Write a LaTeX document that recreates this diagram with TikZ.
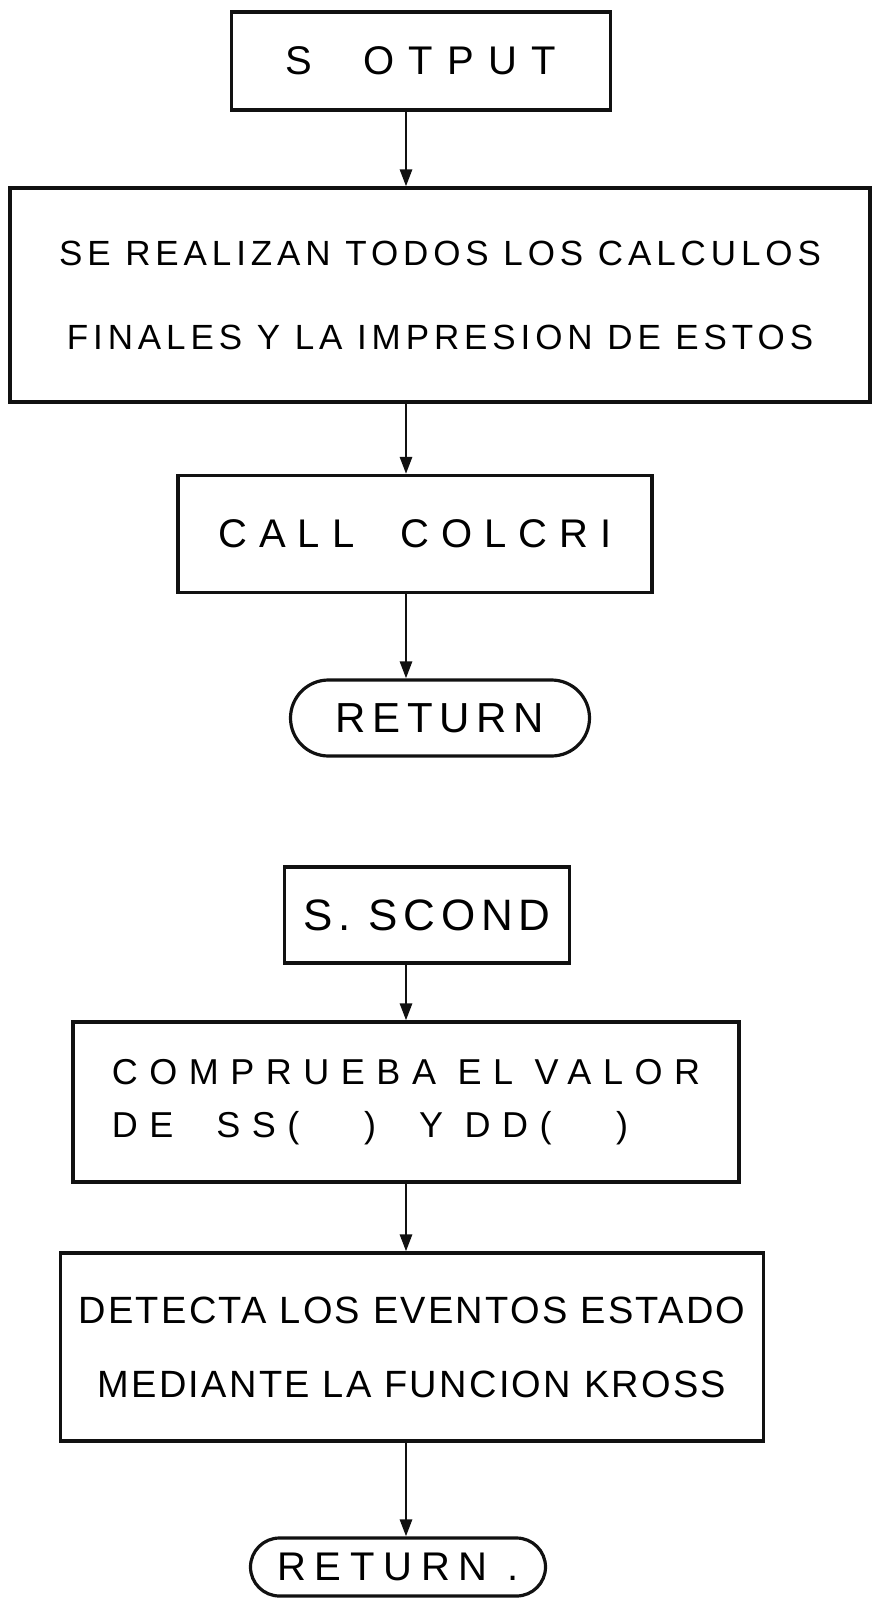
\documentclass[tikz,border=0pt]{standalone}
\usepackage{fontspec}
\setmainfont{Liberation Sans}
\usetikzlibrary{arrows.meta,positioning,shapes.misc}
\definecolor{Ink}{HTML}{111111}

\begin{document}
\begin{tikzpicture}[
      x=1pt,y=-1pt,
      procbox/.style={draw=Ink,line width=3.2pt,align=center,inner sep=0pt},
      termbox/.style={draw=Ink,line width=3.2pt,rounded rectangle,inner sep=0pt},
      arrow/.style={-{Triangle[length=17pt,width=12pt]},line width=2.8pt,color=Ink}
    ]
      \useasboundingbox (0,0) rectangle (871,1598);
      \coordinate (col) at (406,0);
      % first routine
      \node[procbox,minimum width=379pt,minimum height=98pt] (otput) at (421,61)
        {\fontsize{40}{40}\selectfont\addfontfeatures{LetterSpace=36}S\ \ OTPUT};
      \node[procbox,minimum width=860pt,minimum height=214pt,
        font=\fontsize{35}{84}\selectfont\addfontfeatures{LetterSpace=14}] (calc) at (440,295)
        {SE REALIZAN TODOS LOS CALCULOS\\FINALES Y LA IMPRESION DE ESTOS};
      \node[procbox,minimum width=474pt,minimum height=117pt] (colcri) at (415,534)
        {\fontsize{40}{40}\selectfont\addfontfeatures{LetterSpace=30}CALL\ \ COLCRI};
      \node[termbox,minimum width=299pt,minimum height=76pt] (ret1) at (440,718)
        {\fontsize{42}{42}\selectfont\addfontfeatures{LetterSpace=16}RETURN};
      % second routine
      \node[procbox,minimum width=285pt,minimum height=96pt] (scond) at (427,915)
        {\fontsize{44}{44}\selectfont\addfontfeatures{LetterSpace=13}S. SCOND};
      \node[procbox,minimum width=666pt,minimum height=160pt,align=left,
        font=\fontsize{36}{53}\selectfont\addfontfeatures{LetterSpace=32}] (valor) at (406,1102)
        {COMPRUEBA EL VALOR\\DE\ \ SS(\ \ \ )\ \ Y\ DD(\ \ \ )};
      \node[procbox,minimum width=703pt,minimum height=188pt,
        font=\fontsize{38}{74}\selectfont\addfontfeatures{LetterSpace=6}] (kross) at (412,1347)
        {DETECTA LOS EVENTOS ESTADO\\MEDIANTE LA FUNCION KROSS};
      \node[termbox,minimum width=295pt,minimum height=58pt] (ret2) at (398,1567)
        {\fontsize{40}{40}\selectfont\addfontfeatures{LetterSpace=22}RETURN .};
      \draw[arrow] (otput.south -| col) -- (calc.north -| col);
      \draw[arrow] (calc.south -| col) -- (colcri.north -| col);
      \draw[arrow] (colcri.south -| col) -- (ret1.north -| col);
      \draw[arrow] (scond.south -| col) -- (valor.north -| col);
      \draw[arrow] (valor.south -| col) -- (kross.north -| col);
      \draw[arrow] (kross.south -| col) -- (ret2.north -| col);
    \end{tikzpicture}
\end{document}
